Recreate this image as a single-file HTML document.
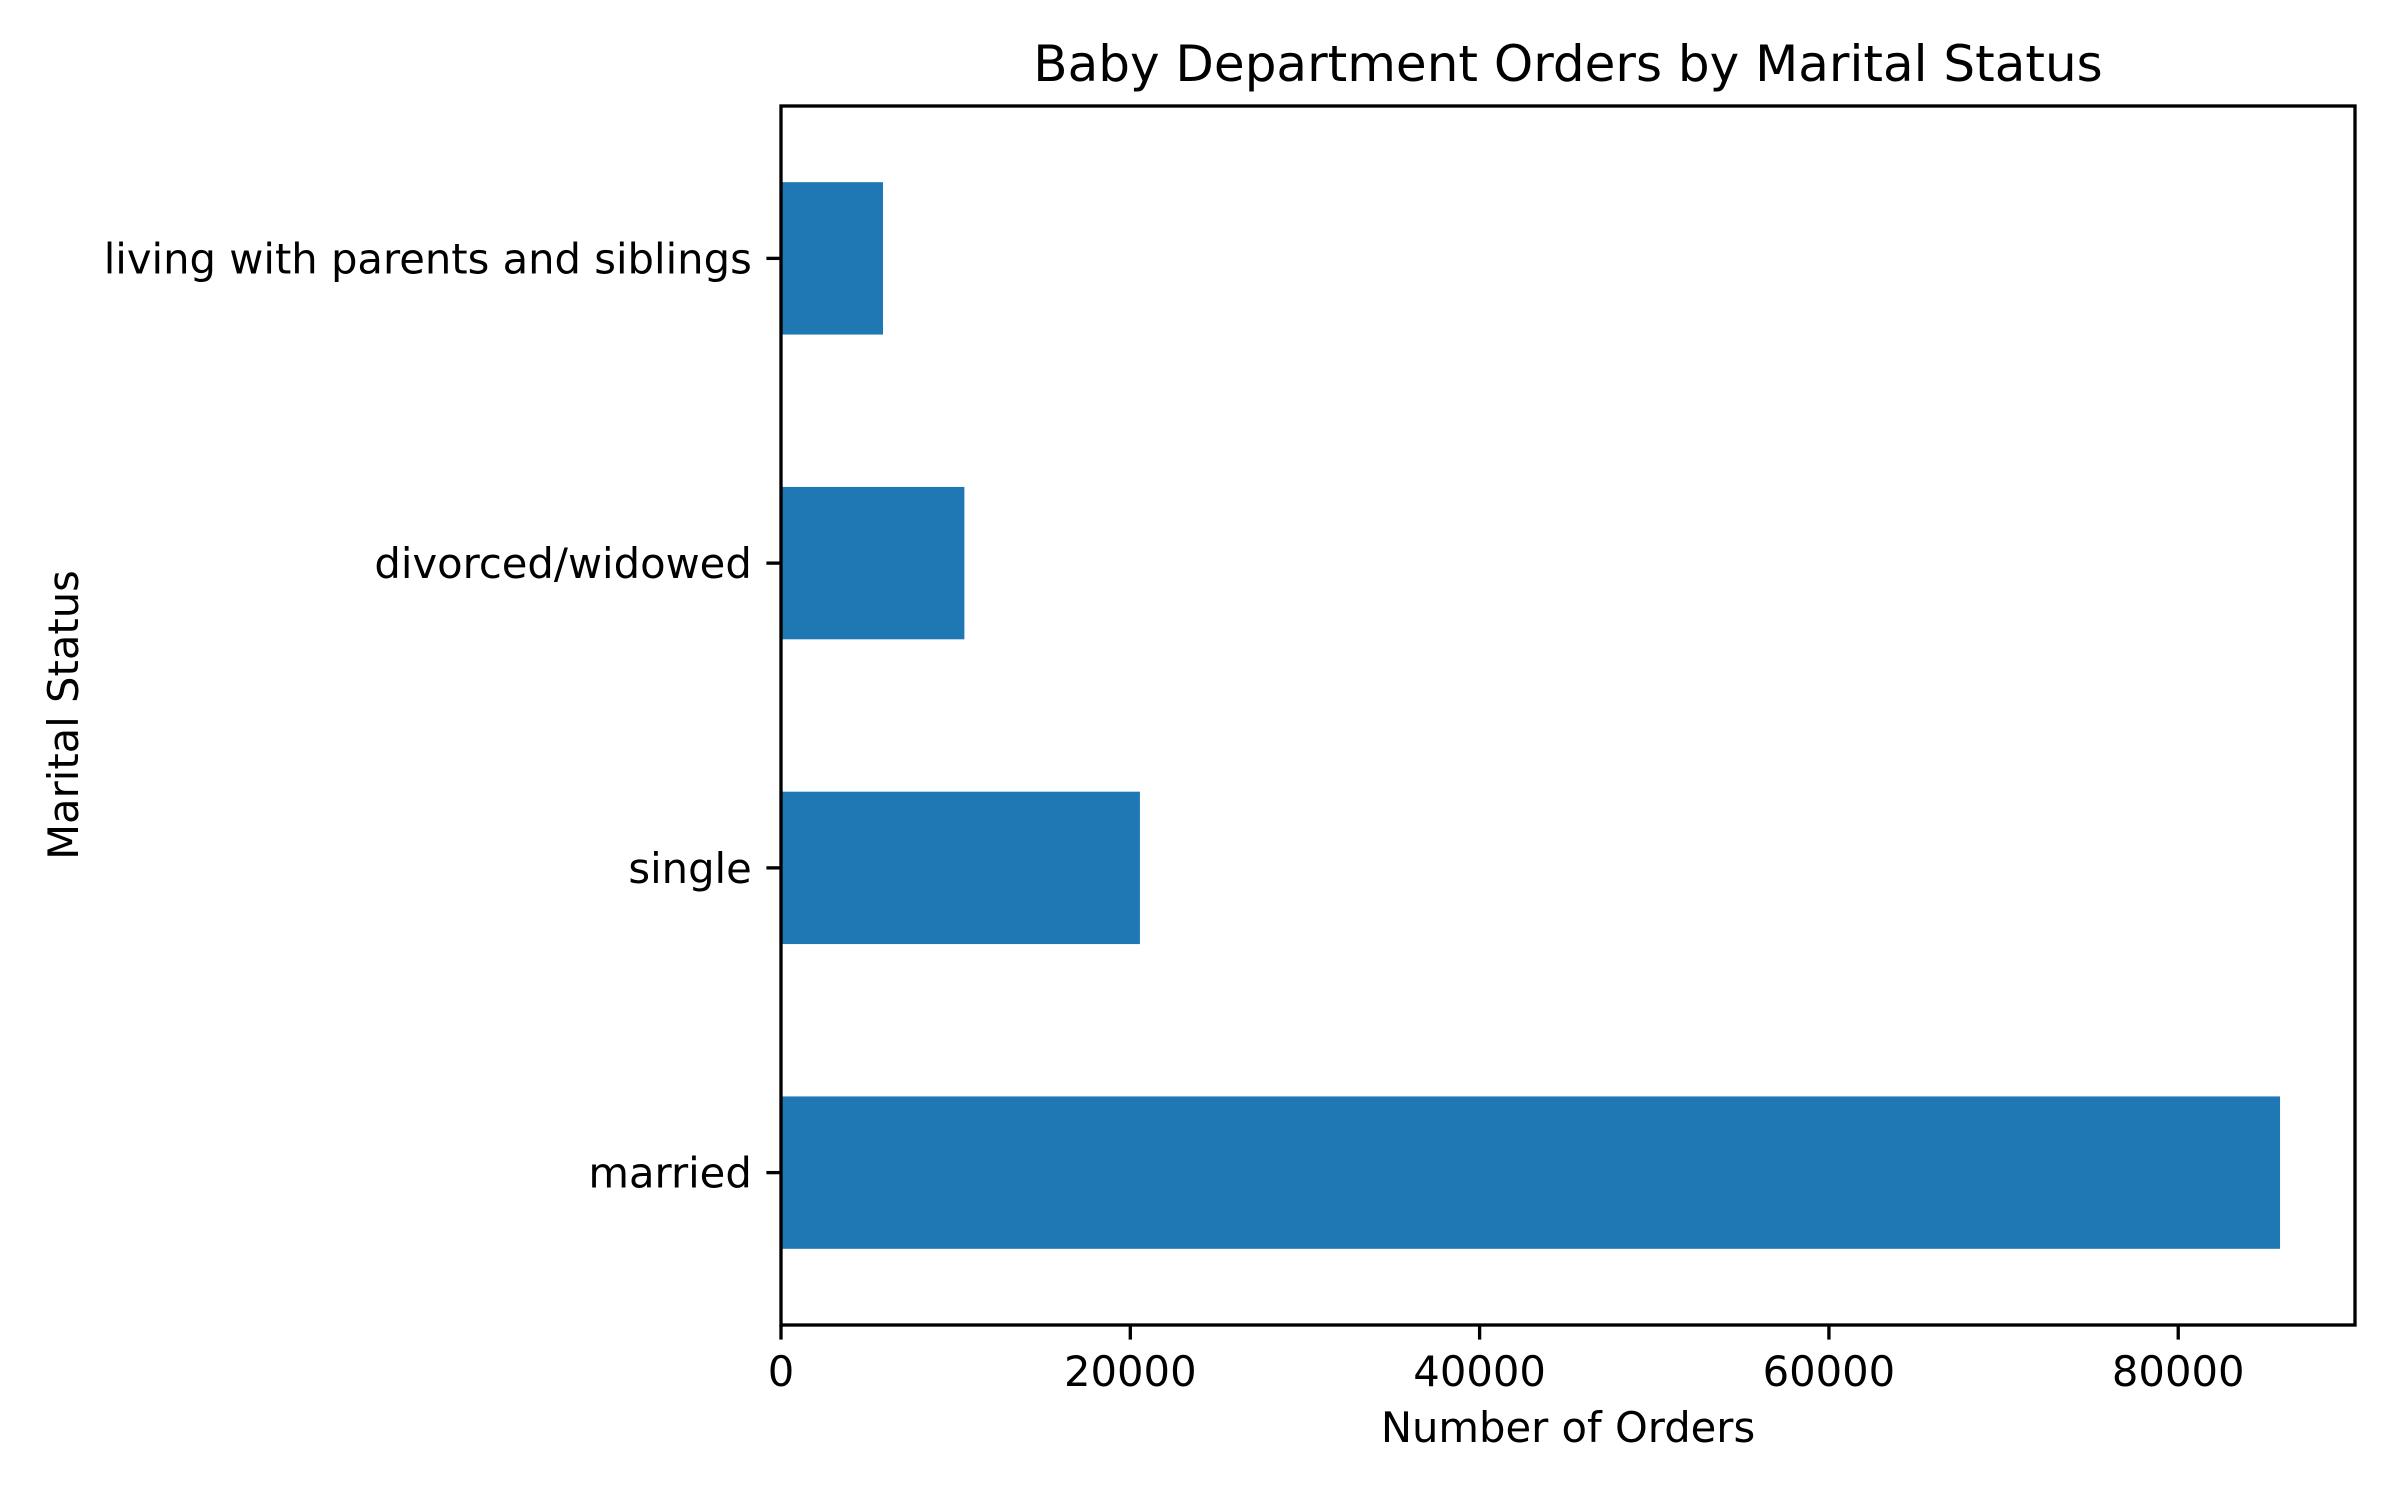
<!DOCTYPE html>
<html><head><meta charset="utf-8"><style>
html,body{margin:0;padding:0;background:#fff;}
svg{display:block;font-family:"DejaVu Sans","Liberation Sans",sans-serif;}
</style></head><body>
<svg id="chart" width="2400" height="1500" viewBox="0 0 2400 1500">
<rect x="0" y="0" width="2400" height="1500" fill="#fff"/>
<g id="bars"></g>
<g id="xticks"></g>
<g id="yticks"></g>
<rect x="781" y="106" width="1574" height="1219" fill="none" stroke="#000" stroke-width="3.33"/>
<text x="1568" y="81" text-anchor="middle" font-size="50" fill="#000">Baby Department Orders by Marital Status</text>
<text x="1568" y="1442" text-anchor="middle" font-size="41.7" fill="#000">Number of Orders</text>
<text x="78" y="715" text-anchor="middle" font-size="41.7" fill="#000" transform="rotate(-90 78 715)">Marital Status</text>
</svg>
<script>
const categories = ["married", "single", "divorced/widowed", "living with parents and siblings"];
const orders = [85830, 20550, 10500, 5840];
const xTickValues = [0, 20000, 40000, 60000, 80000];
const xTickLabels = ["0", "20000", "40000", "60000", "80000"];

const NS = "http://www.w3.org/2000/svg";
const L = 781, R = 2355, T = 106, B = 1325;
const xMax = Math.max(...orders) * 1.05;
function xScale(v){ return L + (v / xMax) * (R - L); }
const unit = (B - T) / categories.length;
function yScale(i){ return B - (i + 0.5) * unit; }
function mk(tag, attrs){ const e = document.createElementNS(NS, tag); for (const k in attrs) e.setAttribute(k, attrs[k]); return e; }

const bars = document.getElementById("bars");
categories.forEach((c, i) => {
  const h = unit * 0.5;
  const r = mk("rect", {x: xScale(0), y: yScale(i) - h/2, width: xScale(orders[i]) - xScale(0), height: h, fill: "#1f77b4"});
  
  
  bars.appendChild(r);
});

const xt = document.getElementById("xticks");
xTickValues.forEach((v, i) => {
  const x = xScale(v);
  const ln = mk("line", {x1: x, x2: x, y1: B, y2: B + 14.6, stroke: "#000", "stroke-width": 3.33});
  
  
  xt.appendChild(ln);
  const t = mk("text", {x: x, y: B + 61, "text-anchor": "middle", "font-size": 41.7, fill: "#000"});
  t.textContent = xTickLabels[i];
  
  
  xt.appendChild(t);
});

const yt = document.getElementById("yticks");
categories.forEach((c, i) => {
  const y = yScale(i);
  const ln = mk("line", {x1: L - 14.6, x2: L, y1: y, y2: y, stroke: "#000", "stroke-width": 3.33});
  
  
  yt.appendChild(ln);
  const t = mk("text", {x: L - 29.2, y: y + 15, "text-anchor": "end", "font-size": 41.7, fill: "#000"});
  t.textContent = c;
  
  
  yt.appendChild(t);
});
</script>
</body></html>
